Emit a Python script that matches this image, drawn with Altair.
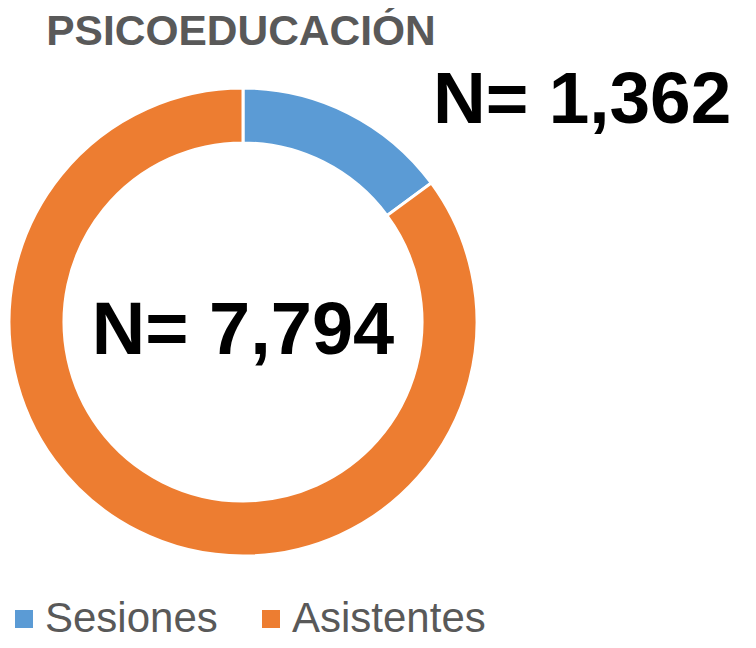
import altair as alt
import pandas as pd

categories = ["Sesiones", "Asistentes"]
values = [1362, 7794]
colors = ["#5B9BD5", "#ED7D31"]
title_text = "PSICOEDUCACIÓN"

df = pd.DataFrame({"cat": categories, "val": values, "ord": [0, 1]})

CX, CY = 243 - 8, 322 - 8

donut = alt.Chart(df).mark_arc(
    outerRadius=234, innerRadius=179, stroke="white", strokeWidth=3
).encode(
    theta=alt.Theta("val:Q", stack=True),
    color=alt.Color(
        "cat:N",
        scale=alt.Scale(domain=categories, range=colors),
        sort=categories,
        legend=alt.Legend(
            title=None,
            orient="none",
            legendX=-5,
            legendY=590,
            direction="horizontal",
            symbolType="square",
            symbolSize=324,
            symbolStrokeWidth=0,
            labelFontSize=42,
            labelFont="Liberation Sans",
            labelColor="#595959",
            labelOffset=0,
            columnPadding=32,
            labelLimit=400,
        ),
    ),
    order=alt.Order("ord:Q"),
    x=alt.value(CX),
    y=alt.value(CY),
)

lab_df = pd.DataFrame({"cat": categories, "val": values})
lab_df["label"] = ["N= " + f"{v:,}" for v in values]

lab_ses = alt.Chart(lab_df).transform_filter(alt.datum.cat == "Sesiones").mark_text(
    font="Liberation Sans", fontWeight="bold", fontSize=73, color="black",
    align="left", baseline="alphabetic"
).encode(text="label:N", x=alt.value(433 - 8), y=alt.value(123 - 8))

lab_asi = alt.Chart(lab_df).transform_filter(alt.datum.cat == "Asistentes").mark_text(
    font="Liberation Sans", fontWeight="bold", fontSize=74, color="black",
    align="center", baseline="alphabetic"
).encode(text="label:N", x=alt.value(CX), y=alt.value(354 - 8))

title = alt.Chart(pd.DataFrame({"t": [title_text]})).mark_text(
    font="Liberation Sans", fontWeight="bold", fontSize=42.5, color="#595959",
    align="center", baseline="alphabetic"
).encode(text="t:N", x=alt.value(241 - 8), y=alt.value(45 - 8))

chart = alt.layer(donut, lab_ses, lab_asi, title).properties(
    width=740, height=632, autosize=alt.AutoSizeParams(type="none"), padding=0
).configure_view(stroke=None)

chart.save("out.html", embed_options={"renderer": "svg", "actions": False})
